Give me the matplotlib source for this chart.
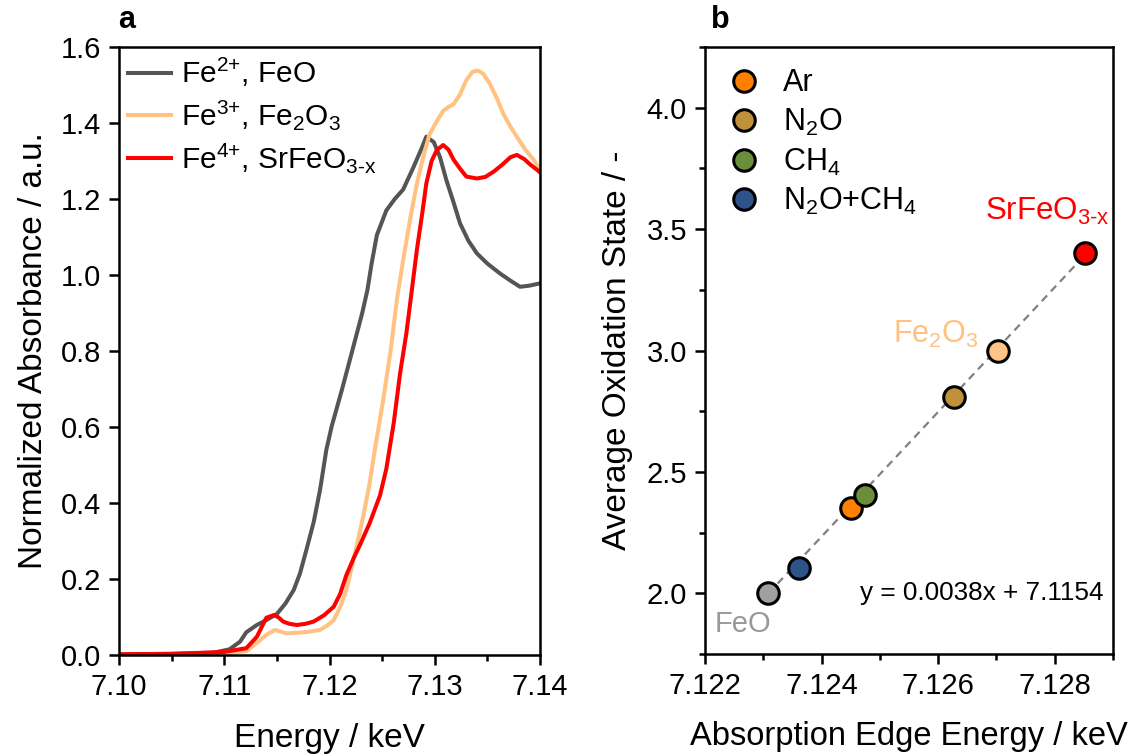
import numpy as np
import matplotlib
matplotlib.use("Agg")
import matplotlib.pyplot as plt

plt.rcParams['font.family'] = ['Liberation Sans', 'DejaVu Sans']
plt.rcParams['mathtext.fontset'] = 'custom'
plt.rcParams['mathtext.rm'] = 'Liberation Sans'
plt.rcParams['mathtext.it'] = 'Liberation Sans:italic'
plt.rcParams['mathtext.bf'] = 'Liberation Sans:bold'

# ---------------- Panel a data (XANES spectra) ----------------
feo_E = [7.1000, 7.1050, 7.1090, 7.1105, 7.1115, 7.1121, 7.1131, 7.1140, 7.1150, 7.1158,
         7.1166, 7.1172, 7.1178, 7.1185, 7.1191, 7.1197, 7.1202, 7.1212, 7.1221, 7.1231,
         7.1236, 7.1240, 7.1245, 7.1254, 7.1262, 7.1270, 7.1280, 7.1287, 7.1292, 7.1299,
         7.1305, 7.1311, 7.1318, 7.1324, 7.1332, 7.1340, 7.1350, 7.1362, 7.1372, 7.1381,
         7.1390, 7.1400]
feo_A = [0.002, 0.003, 0.006, 0.015, 0.035, 0.060, 0.079, 0.092, 0.108, 0.135,
         0.171, 0.215, 0.276, 0.350, 0.434, 0.540, 0.601, 0.700, 0.794, 0.899,
         0.960, 1.030, 1.105, 1.170, 1.200, 1.225, 1.285, 1.330, 1.364, 1.350,
         1.310, 1.250, 1.190, 1.136, 1.090, 1.057, 1.030, 1.004, 0.985, 0.969,
         0.972, 0.978]

fe2o3_E = [7.1000, 7.1050, 7.1100, 7.1121, 7.1134, 7.1140, 7.1148, 7.1153, 7.1159, 7.1166,
           7.1172, 7.1180, 7.1191, 7.1198, 7.1204, 7.1210, 7.1216, 7.1221, 7.1226, 7.1232,
           7.1238, 7.1243, 7.1251, 7.1258, 7.1264, 7.1270, 7.1277, 7.1283, 7.1289, 7.1295,
           7.1302, 7.1308, 7.1313, 7.1318, 7.1324, 7.1330, 7.1336, 7.1341, 7.1346, 7.1352,
           7.1359, 7.1365, 7.1372, 7.1378, 7.1386, 7.1394, 7.1400]
fe2o3_A = [0.001, 0.002, 0.004, 0.010, 0.039, 0.053, 0.066, 0.062, 0.057, 0.058,
           0.059, 0.061, 0.066, 0.078, 0.092, 0.125, 0.171, 0.230, 0.290, 0.364,
           0.450, 0.539, 0.671, 0.800, 0.934, 1.040, 1.153, 1.240, 1.310, 1.370,
           1.405, 1.432, 1.442, 1.450, 1.475, 1.513, 1.535, 1.538, 1.530, 1.505,
           1.465, 1.425, 1.390, 1.364, 1.330, 1.303, 1.276]

srfeo3_E = [7.1000, 7.1050, 7.1100, 7.1121, 7.1131, 7.1140, 7.1147, 7.1151, 7.1156, 7.1162,
            7.1169, 7.1177, 7.1185, 7.1195, 7.1204, 7.1210, 7.1216, 7.1223, 7.1229, 7.1238,
            7.1248, 7.1254, 7.1261, 7.1267, 7.1273, 7.1278, 7.1283, 7.1288, 7.1292, 7.1297,
            7.1302, 7.1308, 7.1313, 7.1318, 7.1324, 7.1330, 7.1340, 7.1348, 7.1356, 7.1364,
            7.1372, 7.1378, 7.1385, 7.1391, 7.1398, 7.1400]
srfeo3_A = [0.002, 0.003, 0.008, 0.018, 0.048, 0.098, 0.105, 0.100, 0.088, 0.082,
            0.079, 0.082, 0.088, 0.105, 0.127, 0.160, 0.210, 0.255, 0.290, 0.346,
            0.420, 0.490, 0.610, 0.740, 0.846, 0.955, 1.066, 1.160, 1.241, 1.300,
            1.329, 1.342, 1.330, 1.303, 1.280, 1.259, 1.254, 1.258, 1.272, 1.290,
            1.310, 1.316, 1.305, 1.290, 1.275, 1.270]

spectra_labels = ['Fe$^{\\text{2+}}$, FeO',
                  'Fe$^{\\text{3+}}$, Fe$_{\\text{2}}$O$_{\\text{3}}$',
                  'Fe$^{\\text{4+}}$, SrFeO$_{\\text{3-x}}$']
spectra_colors = ['#555555', '#FFC283', '#FF0000']

# ---------------- Panel b data (edge energy vs oxidation state) ----------------
sample_names = ['Ar', 'N$_{\\text{2}}$O', 'CH$_{\\text{4}}$',
                'N$_{\\text{2}}$O+CH$_{\\text{4}}$']
sample_E = [7.12450, 7.12628, 7.12474, 7.12361]
sample_OS = [2.35, 2.81, 2.405, 2.106]
sample_colors = ['#FF8000', '#C0903A', '#6A8E3A', '#2E528A']

ref_names = ['FeO', 'Fe$_{\\text{2}}$O$_{\\text{3}}$', 'SrFeO$_{\\text{3-x}}$']
ref_E = [7.12308, 7.12702, 7.12852]
ref_OS = [2.0, 3.0, 3.40]
ref_colors = ['#A0A0A0', '#FFC38A', '#FF0000']
ref_text_colors = ['#999999', '#FFC080', '#FF0000']
fit_text = 'y = 0.0038x + 7.1154'

# ---------------- Figure ----------------
fig = plt.figure(figsize=(11.39, 7.55), dpi=100)
ax1 = fig.add_axes([119/1139, 1-655/755, (540-119)/1139, (655-47)/755])
ax2 = fig.add_axes([705/1139, 1-654/755, (1113-705)/1139, (654-47)/755])

TFS = 21   # tick labels
LFS = 24   # axis labels
for ax in (ax1, ax2):
    for s in ax.spines.values():
        s.set_linewidth(1.8)
    ax.tick_params(which='major', direction='out', length=7, width=1.8,
                   labelsize=TFS, pad=6, top=False, right=False)
    ax.tick_params(which='minor', direction='out', length=4.5, width=1.8,
                   top=False, right=False)

# Panel a
for E, A, lab, c in zip([feo_E, fe2o3_E, srfeo3_E], [feo_A, fe2o3_A, srfeo3_A],
                        spectra_labels, spectra_colors):
    ax1.plot(E, A, color=c, lw=2.9, label=lab)
ax1.set_xlim(7.10, 7.14)
ax1.set_ylim(0.0, 1.6)
ax1.set_xticks([7.10, 7.11, 7.12, 7.13, 7.14])
ax1.set_xticklabels(['7.10', '7.11', '7.12', '7.13', '7.14'])
ax1.set_xticks([7.105, 7.115, 7.125, 7.135], minor=True)
ax1.set_yticks(np.arange(0, 1.61, 0.2))
ax1.set_yticklabels([f'{v:.1f}' for v in np.arange(0, 1.61, 0.2)])
ax1.set_xlabel('Energy / keV', fontsize=LFS, labelpad=16)
ax1.set_ylabel('Normalized Absorbance / a.u.', fontsize=LFS, labelpad=8)
ax1.legend(loc='upper left', frameon=False, fontsize=21.5, handlelength=1.45,
           handletextpad=0.35, labelspacing=0.3, borderaxespad=0.0,
           bbox_to_anchor=(-0.008, 1.005))
fig.text(127/1139, 1-20/755, 'a', fontsize=22, fontweight='bold', ha='center', va='center')

# Panel b
fit = np.polyfit(ref_OS, ref_E, 1)
os_line = np.array([min(ref_OS), max(ref_OS)])
ax2.plot(np.polyval(fit, os_line), os_line, ls=(0, (3.5, 2.5)), color='#808080', lw=1.6, zorder=1)
for E, OS, lab, c in zip(sample_E, sample_OS, sample_names, sample_colors):
    ax2.plot(E, OS, 'o', ms=15.5, mfc=c, mec='black', mew=2.2, label=lab, ls='none', zorder=3)
for E, OS, c in zip(ref_E, ref_OS, ref_colors):
    ax2.plot(E, OS, 'o', ms=15.5, mfc=c, mec='black', mew=2.2, ls='none', zorder=3)

ax2.text(7.12680, 3.539, ref_names[2], color=ref_text_colors[2], fontsize=22.5, ha='left', va='baseline')
ax2.text(7.12522, 3.033, ref_names[1], color=ref_text_colors[1], fontsize=22, ha='left', va='baseline')
ax2.text(7.12217, 1.840, ref_names[0], color=ref_text_colors[0], fontsize=21, ha='left', va='baseline')
ax2.text(7.12883, 1.972, fit_text, color='black', fontsize=18.8, ha='right', va='baseline')

ax2.set_xlim(7.122, 7.129)
ax2.set_ylim(1.75, 4.25)
ax2.set_xticks([7.122, 7.124, 7.126, 7.128])
ax2.set_xticklabels(['7.122', '7.124', '7.126', '7.128'])
ax2.set_xticks([7.123, 7.125, 7.127, 7.129], minor=True)
ax2.set_yticks([2.0, 2.5, 3.0, 3.5, 4.0])
ax2.set_yticklabels(['2.0', '2.5', '3.0', '3.5', '4.0'])
ax2.set_yticks([1.75, 2.25, 2.75, 3.25, 3.75, 4.25], minor=True)
ax2.set_xlabel('Absorption Edge Energy / keV', fontsize=23.5, labelpad=15)
ax2.set_ylabel('Average Oxidation State / -', fontsize=LFS, labelpad=10)
ax2.legend(loc='upper left', frameon=False, fontsize=22, handletextpad=0.3,
           labelspacing=0.28, borderaxespad=0.0, bbox_to_anchor=(-0.01, 0.985))
fig.text(720/1139, 1-20/755, 'b', fontsize=22, fontweight='bold', ha='center', va='center')

fig.savefig('out.png', dpi=100)
